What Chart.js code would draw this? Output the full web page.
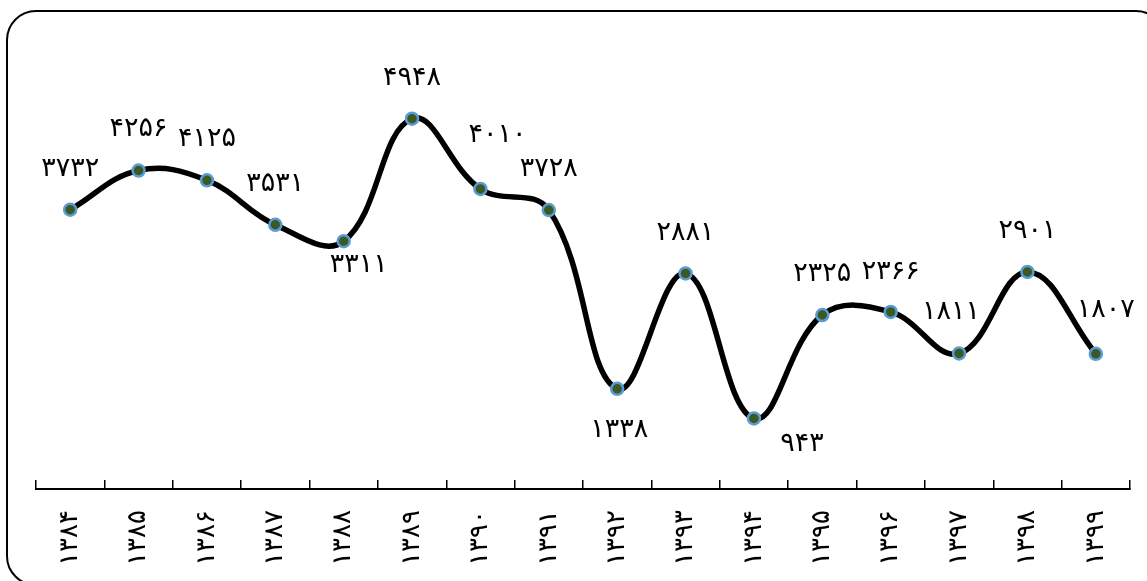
<!DOCTYPE html>
<html>
<head>
<meta charset="utf-8">
<script src="https://cdn.jsdelivr.net/npm/chart.js@4.4.1/dist/chart.umd.min.js"></script>
<style>
  html, body { margin: 0; padding: 0; background: #fff; overflow: hidden; }
  #wrap { position: relative; width: 1147px; height: 581px; }
  #frame {
    position: absolute; left: 6px; top: 10px; width: 1160px; height: 576px;
    border: 2px solid #000; border-radius: 30px; box-sizing: border-box;
  }
  canvas { position: absolute; left: 0; top: 0; }
</style>
</head>
<body>
<div id="wrap">
  <div id="frame"></div>
  <canvas id="lineChart" width="1147" height="581"></canvas>
</div>
<script>
const years = ['۱۳۸۴', '۱۳۸۵', '۱۳۸۶', '۱۳۸۷', '۱۳۸۸', '۱۳۸۹', '۱۳۹۰', '۱۳۹۱',
               '۱۳۹۲', '۱۳۹۳', '۱۳۹۴', '۱۳۹۵', '۱۳۹۶', '۱۳۹۷', '۱۳۹۸', '۱۳۹۹'];
const values = [3732, 4256, 4125, 3531, 3311, 4948, 4010, 3728,
                1338, 2881, 943, 2325, 2366, 1811, 2901, 1807];

// label placement relative to each point (px)
const labelOffsets = [[0, -41], [0, -42], [0, -41], [0, -41], [15, 24], [0, -41], [17, -54], [0, -41],
                      [2, 41], [0, -40], [48, 26], [0, -41], [0, -40], [-8, -41], [0, -41], [10, -44]];

const toFa = n => String(n).replace(/\d/g, d => '۰۱۲۳۴۵۶۷۸۹'[d]);

const valueLabels = {
    id: 'valueLabels',
    afterDatasetsDraw(chart, args, opts) {
        const ctx = chart.ctx;
        const meta = chart.getDatasetMeta(0);
        ctx.save();
        ctx.font = opts.font;
        ctx.fillStyle = '#000';
        ctx.textAlign = 'center';
        ctx.textBaseline = 'middle';
        meta.data.forEach((pt, i) => {
            const [dx, dy] = opts.offsets[i];
            ctx.fillText(toFa(values[i]), pt.x + dx, pt.y + dy);
        });
        ctx.restore();
    }
};

const ctx = document.getElementById('lineChart').getContext('2d');
new Chart(ctx, {
    type: 'line',
    data: {
        labels: years,
        datasets: [{
            data: values,
            borderColor: '#000',
            borderWidth: 5.5,
            tension: 0.4,
            pointRadius: 6,
            pointBackgroundColor: '#3b5a23',
            pointBorderColor: '#5b9bd5',
            pointBorderWidth: 2.5
        }]
    },
    plugins: [valueLabels],
    options: {
        responsive: false,
        animation: false,
        layout: { padding: { left: 36, right: 17, top: 40, bottom: 0 } },
        plugins: {
            legend: { display: false },
            tooltip: { enabled: false },
            valueLabels: { font: '27px "DejaVu Sans"', offsets: labelOffsets }
        },
        scales: {
            y: { display: false, min: 0, max: 6000 },
            x: {
                offset: true,
                afterFit: scale => {
                    scale.height = 92;
                    scale.paddingLeft = 0;
                    scale.paddingRight = 0;
                },
                grid: {
                    offset: true,
                    drawOnChartArea: false,
                    drawTicks: true,
                    tickLength: -9,
                    color: '#000',
                    lineWidth: 1.5
                },
                border: { display: true, color: '#000', width: 2 },
                ticks: {
                    autoSkip: false,
                    maxRotation: 90,
                    minRotation: 90,
                    padding: 30,
                    color: '#000',
                    font: { family: 'DejaVu Sans', size: 26 }
                }
            }
        }
    }
});
</script>
</body>
</html>
